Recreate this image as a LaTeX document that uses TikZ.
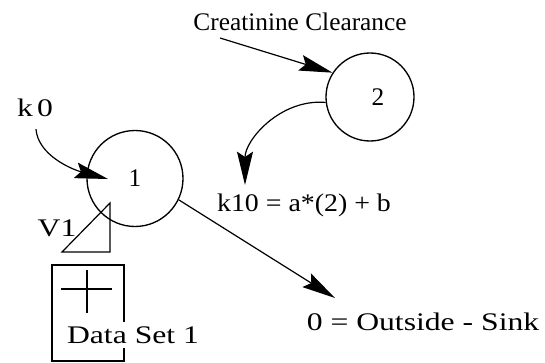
\documentclass[tikz,border=0pt]{standalone}
\usepackage{fontspec}
\setmainfont{Liberation Serif}
\newfontfamily\widefont[FakeStretch=1.25]{Liberation Serif}
\newfontfamily\midfont[FakeStretch=1.1]{Liberation Serif}
\usetikzlibrary{arrows.meta,positioning,calc}

\begin{document}
\begin{tikzpicture}[x=0.75pt,y=0.75pt]

\tikzset{comp/.style = {shape=circle,draw,line width=1pt,inner sep=0pt}}
\tikzset{lbl/.style = {font=\fontsize{19}{22}\selectfont,inner sep=1pt}}
\tikzset{flow/.style = {-{Stealth[length=25pt,width=12pt,inset=4pt]},line width=0.9pt}}

\useasboundingbox (0,0) rectangle (545,362);

% compartments
\node[comp,minimum size=72pt] (c1) at (135,183.5) {\fontsize{19}{22}\selectfont 1};
\node[comp,minimum size=66pt] (c2) at (370,265) {\fontsize{19}{22}\selectfont \hspace{12pt}\raisebox{-8pt}{2}};

% labels
\node[lbl] (k0) at (35,254) {\widefont k\,0};
\node[lbl] (cc) at (300,340) {Creatinine Clearance};
\node[lbl] (k10) at (304,157) {\midfont k10 = a*(2) + b};
\node[lbl] (sink) at (423,40) {\widefont 0 = Outside - Sink};
\node[lbl] (v1) at (57,134) {\widefont V1};

% free ends
\coordinate (k0tip) at (108,183);
\coordinate (ccfrom) at (220,324);
\coordinate (k10tip) at (245,177);
\coordinate (sinktip) at (335,64);

% flows
\draw[flow,shorten <=8pt] (k0.south) to[out=-85,in=165] (k0tip);
\draw[flow] (ccfrom) -- (c2.147);
\draw[flow] (c2.187) to[out=175,in=90] (k10tip);
\draw[flow] (c1.-26) -- (sinktip);

% volume triangle
\draw[line width=0.9pt] (62,110) -- (110,110) -- (110,159) -- cycle;

% data set box
\draw[line width=1pt] (52,97) rectangle (124,1);
\draw[line width=1pt] (61,73) -- (112,73);
\draw[line width=1pt] (87,92) -- (87,49);
\node[lbl,fill=white,inner sep=3pt] (ds) at (133,27) {\widefont Data Set 1};

\end{tikzpicture}
\end{document}
